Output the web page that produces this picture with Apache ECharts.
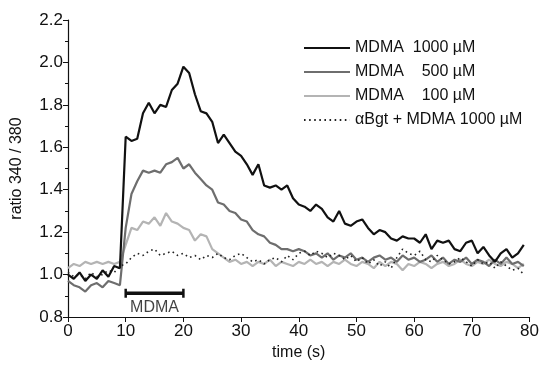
<!DOCTYPE html>
<html>
<head>
<meta charset="utf-8">
<script src="https://cdn.jsdelivr.net/npm/echarts@6/dist/echarts.min.js"></script>
<style>html,body{margin:0;padding:0;background:#fff}#c{width:542px;height:366px}</style>
</head>
<body>
<div id="c"></div>
<script>
var time = [];
for (var i = 0; i < 80; i++) time.push(i);

var seriesNames = ['MDMA  1000 µM', 'MDMA    500 µM', 'MDMA    100 µM', 'αBgt + MDMA 1000 µM'];

var mdma1000 = [1.00,0.98,1.01,0.97,1.00,0.98,1.02,0.99,1.04,1.03,
1.65,1.63,1.64,1.76,1.81,1.76,1.80,1.79,1.87,1.90,
1.98,1.95,1.85,1.77,1.76,1.72,1.62,1.66,1.62,1.58,
1.56,1.52,1.47,1.52,1.42,1.41,1.42,1.40,1.42,1.36,
1.33,1.32,1.30,1.33,1.31,1.27,1.25,1.30,1.24,1.23,
1.25,1.26,1.22,1.19,1.21,1.20,1.17,1.16,1.18,1.17,
1.17,1.15,1.19,1.12,1.16,1.15,1.16,1.12,1.11,1.15,
1.16,1.10,1.13,1.09,1.06,1.10,1.12,1.08,1.10,1.14];

var mdma500 = [0.97,0.95,0.94,0.92,0.95,0.96,0.94,0.97,0.96,0.95,
1.22,1.38,1.44,1.49,1.48,1.49,1.48,1.52,1.53,1.55,
1.50,1.52,1.48,1.45,1.42,1.40,1.34,1.33,1.30,1.29,
1.26,1.25,1.21,1.19,1.18,1.15,1.14,1.12,1.12,1.11,
1.12,1.11,1.09,1.10,1.08,1.10,1.07,1.09,1.08,1.10,
1.07,1.08,1.06,1.08,1.09,1.07,1.08,1.06,1.09,1.07,
1.08,1.06,1.07,1.09,1.06,1.08,1.05,1.07,1.06,1.08,
1.05,1.07,1.06,1.04,1.07,1.05,1.08,1.05,1.06,1.04];

var mdma100 = [1.03,1.05,1.04,1.06,1.05,1.06,1.05,1.06,1.05,1.06,
1.14,1.22,1.21,1.25,1.24,1.27,1.23,1.29,1.25,1.24,
1.22,1.21,1.16,1.19,1.18,1.12,1.10,1.08,1.06,1.07,
1.05,1.06,1.04,1.06,1.05,1.07,1.04,1.06,1.05,1.04,
1.06,1.05,1.07,1.05,1.06,1.04,1.06,1.05,1.07,1.05,
1.04,1.06,1.05,1.03,1.06,1.04,1.06,1.05,1.02,1.05,
1.04,1.06,1.05,1.03,1.05,1.06,1.04,1.05,1.07,1.05,
1.04,1.06,1.05,1.07,1.05,1.04,1.06,1.05,1.03,1.05];

var bgtMdma = [1.01,0.99,1.00,0.98,1.01,0.99,1.00,1.02,1.01,1.04,
1.05,1.08,1.10,1.09,1.11,1.12,1.09,1.10,1.11,1.09,
1.10,1.08,1.09,1.07,1.09,1.08,1.10,1.08,1.07,1.09,
1.10,1.08,1.06,1.07,1.05,1.07,1.08,1.06,1.09,1.07,
1.10,1.11,1.09,1.11,1.10,1.08,1.10,1.09,1.07,1.09,
1.06,1.08,1.05,1.07,1.04,1.06,1.03,1.08,1.12,1.10,
1.09,1.11,1.07,1.06,1.09,1.07,1.05,1.06,1.08,1.06,
1.04,1.07,1.05,1.06,1.03,1.06,1.04,1.02,1.03,1.00];

var barTimes = [10, 20];
var barLevel = 0.912;
var barLabel = 'MDMA';
var barLabelPos = [15, 0.845];

function pairs(ys) { return time.map(function (t, i) { return [t, ys[i]]; }); }

var font = 'Liberation Sans, Arial, sans-serif';
var chart = echarts.init(document.getElementById('c'), null, {renderer: 'canvas'});
chart.setOption({
  animation: false,
  backgroundColor: '#fff',
  grid: {left: 68, right: 12, top: 20, bottom: 49},
  legend: {
    data: seriesNames,
    orient: 'vertical',
    left: 298,
    top: 35,
    itemWidth: 46,
    itemHeight: 14,
    itemGap: 8,
    itemStyle: {opacity: 0},
    textStyle: {fontFamily: font, fontSize: 16, color: '#111'}
  },
  xAxis: {
    type: 'value', min: 0, max: 80, interval: 10,
    name: 'time (s)', nameLocation: 'middle', nameGap: 28,
    nameTextStyle: {fontFamily: font, fontSize: 16, color: '#111'},
    axisLine: {lineStyle: {color: '#111', width: 1.2}},
    axisTick: {inside: false, length: 5, lineStyle: {color: '#111'}},
    axisLabel: {fontFamily: font, fontSize: 17, color: '#111', margin: 6},
    splitLine: {show: false}
  },
  yAxis: {
    type: 'value', min: 0.8, max: 2.2, interval: 0.2,
    name: 'ratio 340 / 380', nameLocation: 'middle', nameGap: 43,
    nameTextStyle: {fontFamily: font, fontSize: 16, color: '#111'},
    axisLine: {show: true, lineStyle: {color: '#111', width: 1.2}},
    axisTick: {show: true, inside: false, length: 5, lineStyle: {color: '#111'}},
    minorTick: {show: true, splitNumber: 2, length: 3, lineStyle: {color: '#111'}},
    axisLabel: {fontFamily: font, fontSize: 17, color: '#111', margin: 5,
      formatter: function (v) { return v.toFixed(1); }},
    splitLine: {show: false}
  },
  series: [
    {name: seriesNames[2], type: 'line', data: pairs(mdma100), showSymbol: false, symbol: 'none',
     lineStyle: {color: '#b4b4b4', width: 2.2}, itemStyle: {color: '#b4b4b4'}, z: 2},
    {name: seriesNames[1], type: 'line', data: pairs(mdma500), showSymbol: false, symbol: 'none',
     lineStyle: {color: '#6e6e6e', width: 2.2}, itemStyle: {color: '#6e6e6e'}, z: 3},
    {name: seriesNames[3], type: 'line', data: pairs(bgtMdma), showSymbol: false, symbol: 'none',
     lineStyle: {color: '#222', width: 1.6, type: [1.6, 3.5]}, itemStyle: {color: '#222'}, z: 4},
    {name: seriesNames[0], type: 'line', data: pairs(mdma1000), showSymbol: false, symbol: 'none',
     lineStyle: {color: '#111', width: 2.2}, itemStyle: {color: '#111'}, z: 5},
    {name: 'bar', type: 'line', data: barTimes.map(function (t) { return [t, barLevel]; }),
     symbol: 'rect', symbolSize: [2.5, 9], showSymbol: true,
     lineStyle: {color: '#111', width: 3.5}, itemStyle: {color: '#111'}, z: 6},
    {name: 'barLabel', type: 'scatter', data: [barLabelPos], symbolSize: 0,
     label: {show: true, position: 'inside', formatter: barLabel, fontFamily: font, fontSize: 16, color: '#111'}, z: 6}
  ]
});
</script>
</body>
</html>
